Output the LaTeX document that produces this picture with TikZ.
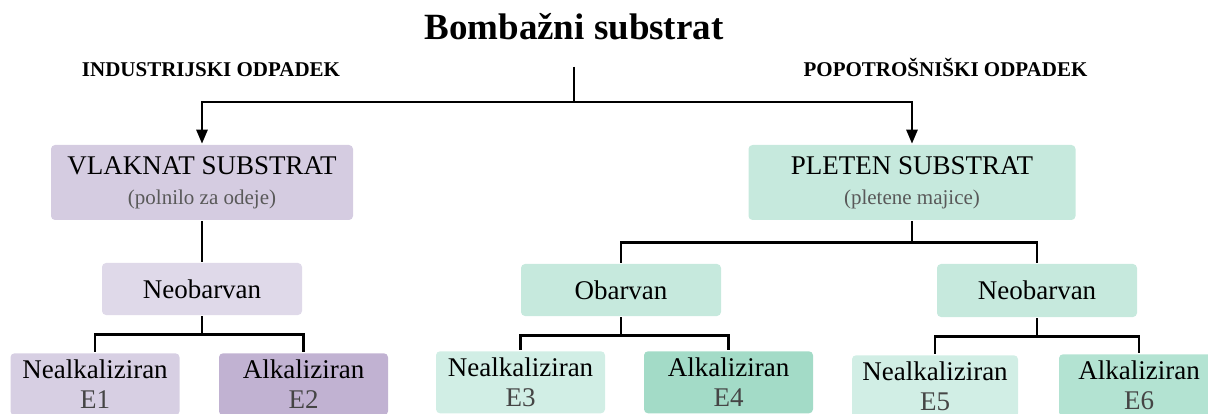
\documentclass[tikz,border=0pt]{standalone}
\usepackage{fontspec}
\setmainfont{Liberation Serif}
\usetikzlibrary{arrows.meta, positioning}

\definecolor{lilaA}{HTML}{D5CCE1}
\definecolor{lilaB}{HTML}{DFD9E9}
\definecolor{lilaC}{HTML}{D7CFE3}
\definecolor{lilaD}{HTML}{C1B2D2}
\definecolor{mintA}{HTML}{C6E9DD}
\definecolor{mintC}{HTML}{D1EEE5}
\definecolor{mintD}{HTML}{A3DBC7}
\definecolor{mintE}{HTML}{B3E3D2}
\definecolor{subgray}{HTML}{595959}
\definecolor{egray}{HTML}{454545}

\newcommand{\subtxt}[1]{{\fontsize{21}{25}\selectfont\color{subgray}#1}}
\newcommand{\etxt}[1]{{\color{egray}#1}}

\begin{document}
\begin{tikzpicture}[x=1pt, y=-1pt, line width=2.6pt,
  box/.style={rounded corners=4pt, inner sep=0pt, align=center,
    font=\fontsize{27}{33}\selectfont},
  leaf/.style={box, anchor=north, minimum width=169pt, minimum height=62pt},
  head/.style={anchor=base, font=\fontsize{21}{25}\selectfont\bfseries},
  arr/.style={-{Triangle[length=14pt,width=11pt]}}]
  \path[use as bounding box, clip] (0,0) rectangle (1208,414);

  % naslov in veji
  \node[anchor=base, font=\fontsize{37}{41}\selectfont\bfseries] (title) at (574,40) {Bombažni substrat};
  \coordinate (rootfoot) at (574,67);
  \node[head] (ind) at (211,77) {INDUSTRIJSKI ODPADEK};
  \node[head] (pop) at (945.5,77) {POPOTROŠNIŠKI ODPADEK};

  % vlaknat substrat
  \node[box, fill=lilaA, minimum width=302pt, minimum height=75pt] (vlaknat) at (202,182.5)
    {VLAKNAT SUBSTRAT\\[-3pt]\subtxt{(polnilo za odeje)}};
  \node[box, fill=lilaB, minimum width=200pt, minimum height=52pt] (neoL) at (202,289) {Neobarvan};
  \node[leaf, fill=lilaC] (e1) at (95,352) {Nealkaliziran\\[-3pt]\etxt{E1}};
  \node[leaf, fill=lilaD] (e2) at (303.5,352) {Alkaliziran\\[-3pt]\etxt{E2}};

  % pleten substrat
  \node[box, fill=mintA, minimum width=327pt, minimum height=75pt] (pleten) at (912,182.5)
    {PLETEN SUBSTRAT\\[-3pt]\subtxt{(pletene majice)}};
  \node[box, fill=mintA, minimum width=200pt, minimum height=52pt] (obarv) at (621,290) {Obarvan};
  \node[box, fill=mintA, minimum width=200pt, minimum height=53pt] (neoR) at (1037,290.5) {Neobarvan};
  \node[leaf, fill=mintC] (e3) at (520.5,350) {Nealkaliziran\\[-3pt]\etxt{E3}};
  \node[leaf, fill=mintD] (e4) at (728.5,350) {Alkaliziran\\[-3pt]\etxt{E4}};
  \node[leaf, fill=mintC, minimum width=166pt] (e5) at (935,354) {Nealkaliziran\\[-3pt]\etxt{E5}};
  \node[leaf, fill=mintE, minimum width=160pt] (e6) at (1139,353) {Alkaliziran\\[-3pt]\etxt{E6}};

  % povezave
  \draw[arr] (rootfoot) -- ++(0,35) -| (vlaknat.north);
  \draw[arr] (rootfoot) -- ++(0,35) -| (pleten.north);
  \draw (vlaknat) -- (neoL);
  \draw (neoL.south) -- ++(0,18) -| (e1.north);
  \draw (neoL.south) -- ++(0,18) -| (e2.north);
  \draw (pleten.south) -- ++(0,21) -| (obarv.north);
  \draw (pleten.south) -- ++(0,21) -| (neoR.north);
  \draw (obarv.south) -- ++(0,18) -| (e3.north);
  \draw (obarv.south) -- ++(0,18) -| (e4.north);
  \draw (neoR.south) -- ++(0,18) -| (e5.north);
  \draw (neoR.south) -- ++(0,18) -| (e6.north);
\end{tikzpicture}
\end{document}
